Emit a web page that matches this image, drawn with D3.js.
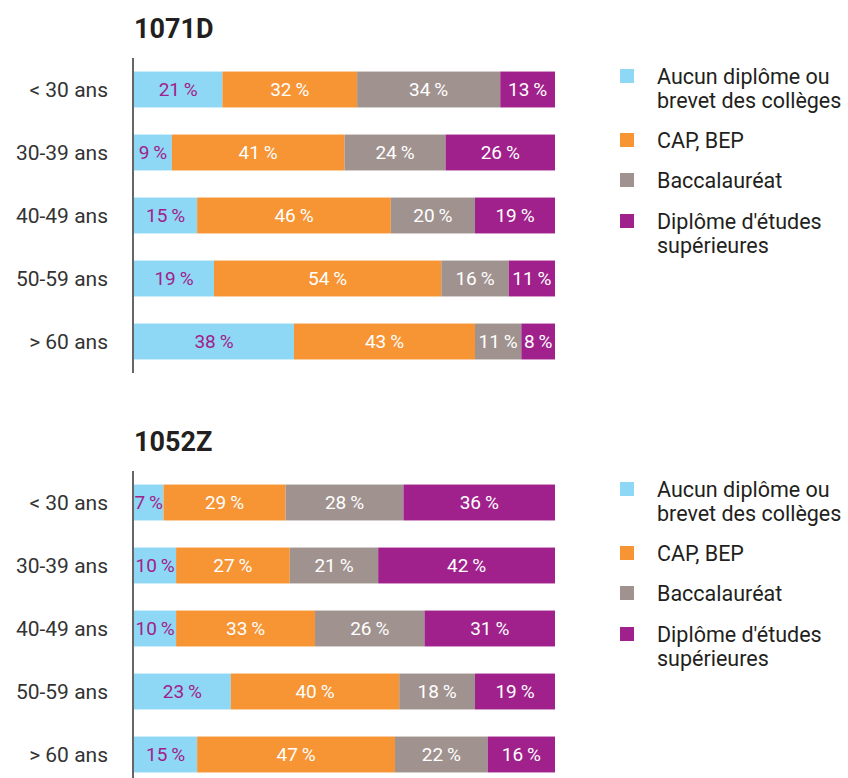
<!DOCTYPE html>
<html><head><meta charset="utf-8">
<script src="https://cdn.jsdelivr.net/npm/d3@7"></script>
<style>body{margin:0;background:#fff;} svg{display:block;}</style>
</head><body>
<svg id="c" width="848" height="778"></svg>
<script>
const ageGroups = ["< 30 ans", "30-39 ans", "40-49 ans", "50-59 ans", "> 60 ans"];
const seriesNames = ["Aucun diplôme ou brevet des collèges", "CAP, BEP", "Baccalauréat", "Diplôme d'études supérieures"];
const legendLines = [["Aucun diplôme ou", "brevet des collèges"], ["CAP, BEP"], ["Baccalauréat"], ["Diplôme d'études", "supérieures"]];
const colors = ["#8fd8f5", "#f79433", "#a0938f", "#a0218b"];
const labelColors = ["#a0218b", "#ffffff", "#ffffff", "#ffffff"];
const titles = ["1071D", "1052Z"];
// values per age group: [aucun, CAP-BEP, bac, supérieur]
const values1071D = [[21,32,34,13],[9,41,24,26],[15,46,20,19],[19,54,16,11],[38,43,11,8]];
const values1052Z = [[7,29,28,36],[10,27,21,42],[10,33,26,31],[23,40,18,19],[15,47,22,16]];
const datasets = [values1071D, values1052Z];

const svg = d3.select("#c");
const font = "Roboto, 'DejaVu Sans', sans-serif";
const x = d3.scaleLinear().domain([0,100]).range([134,555]);

datasets.forEach((vals, k) => {
  const off = k * 413;
  const g = svg.append("g").attr("transform", `translate(0,${off})`);
  const y = d3.scaleBand().domain(ageGroups).range([58,373]).paddingInner(0.43).paddingOuter(0.215);
  g.append("text").attr("x",134).attr("y",38).text(titles[k])
    .attr("font-family",font).attr("font-weight","bold").attr("font-size",27).attr("fill","#231f20");
  const stack = d3.stack().keys([0,1,2,3])(vals);
  stack.forEach((layer, si) => {
    layer.forEach((d, i) => {
      g.append("rect").attr("x", x(d[0])).attr("y", y(ageGroups[i]))
        .attr("width", x(d[1]) - x(d[0])).attr("height", y.bandwidth()).attr("fill", colors[si]);
      g.append("text").attr("x", (x(d[0]) + x(d[1]))/2).attr("y", y(ageGroups[i]) + y.bandwidth()/2)
        .attr("dy","0.36em").attr("text-anchor","middle").attr("font-family",font).attr("font-size",19)
        .attr("fill", labelColors[si]).text(vals[i][si] + "\u2009%");
    });
  });
  ageGroups.forEach(a => {
    g.append("text").attr("x",108).attr("y", y(a)+y.bandwidth()/2).attr("dy","0.36em")
      .attr("text-anchor","end").attr("font-family",font).attr("font-size",21).attr("fill","#333").text(a);
  });
  g.append("line").attr("x1",133).attr("x2",133).attr("y1",58).attr("y2",373)
    .attr("stroke","#333").attr("stroke-width",1.5);
  const legY = [76, 140, 180, 221];
  legendLines.forEach((lines, i) => {
    g.append("rect").attr("x",620).attr("y",legY[i]-7).attr("width",14).attr("height",14).attr("fill",colors[i]);
    lines.forEach((ln, j) => {
      g.append("text").attr("x",657).attr("y",legY[i] + j*24).attr("dy","0.36em")
        .attr("font-family",font).attr("font-size",21.5).attr("fill","#231f20").text(ln);
    });
  });
});
</script>
</body></html>
